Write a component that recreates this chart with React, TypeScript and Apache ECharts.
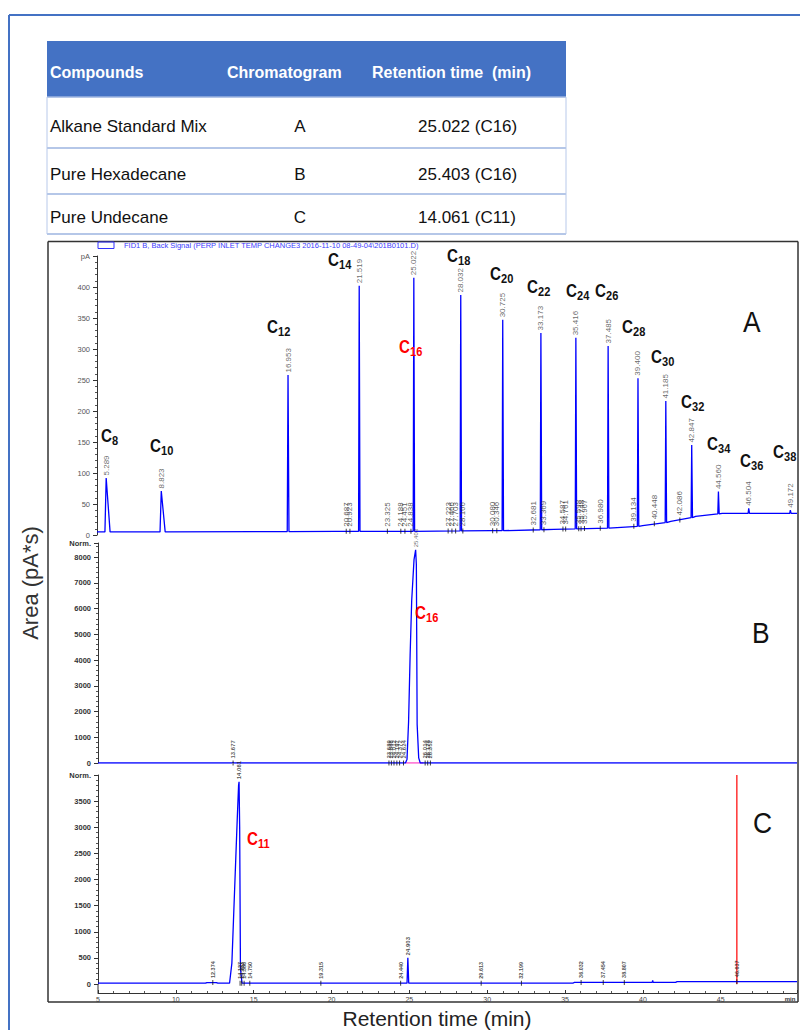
import React, { useEffect, useRef } from 'react';
import * as echarts from 'echarts';

// ---------------- Table data ----------------
const tableHeader = ['Compounds', 'Chromatogram', 'Retention time  (min)'];
const tableCompounds = ['Alkane Standard Mix', 'Pure Hexadecane', 'Pure Undecane'];
const tableChromatogram = ['A', 'B', 'C'];
const tableRetention = ['25.022 (C16)', '25.403 (C16)', '14.061 (C11)'];

// ---------------- Chromatogram A (alkane standard mix, pA) ----------------
const baselineA: number[][] = [
  [4.7, 5], [20, 6], [30, 7], [34, 9], [37.8, 11.5], [39.7, 15], [41.5, 22], [43.1, 30], [44.8, 35], [49.6, 35],
];
const peakTimesA = [5.289, 8.823, 16.953, 21.519, 25.022, 28.032, 30.725, 33.173, 35.416, 37.485, 39.4, 41.185, 42.847, 44.56, 46.504, 49.172];
const peakHeightsA = [92, 71, 258, 402, 415, 387, 347, 326, 318, 305, 253, 216, 145, 70, 43, 40];
const peakBasesA = [5, 5, 5.5, 6, 6, 6.5, 7, 8.5, 10, 11, 14, 20, 28, 34, 35, 35];
const peakLeftWidthA = [0.08, 0.08, 0.05, 0.04, 0.04, 0.04, 0.04, 0.04, 0.04, 0.04, 0.04, 0.04, 0.04, 0.04, 0.04, 0.04];
const peakRightWidthA = [0.25, 0.25, 0.06, 0.05, 0.05, 0.05, 0.05, 0.05, 0.05, 0.05, 0.05, 0.05, 0.05, 0.05, 0.05, 0.05];
const carbonNumbersA = ['8', '10', '12', '14', '16', '18', '20', '22', '24', '26', '28', '30', '32', '34', '36', '38'];
const minorTimesA = [20.687, 20.923, 23.325, 24.188, 24.451, 24.838, 27.223, 27.466, 27.703, 28.166, 30.08, 30.346, 32.681, 33.369, 34.587, 34.761, 35.598, 35.748, 35.967, 36.98, 39.134, 40.448, 42.086];
const minorValuesA = [6, 6, 6, 6, 6, 6, 6.5, 6.5, 6.5, 6.5, 7, 7, 8, 8.5, 9.5, 9.5, 10, 10, 10.5, 11, 14, 18, 24];

// ---------------- Chromatogram B (pure hexadecane, Norm.) ----------------
const traceB: number[][] = [
  [5, 0], [13.6, 0], [13.677, 20], [13.75, 0], [24.75, 0], [24.85, 150], [24.95, 1600], [25.05, 4200], [25.15, 6300],
  [25.3, 7900], [25.403, 8280], [25.45, 7700], [25.5, 1500], [25.6, 200], [25.7, 0], [49.9, 0],
];
const integrationB: number[][] = [[24.75, 0], [25.9, 0]];
const mainTimesB = [25.403];
const mainHeightsB = [8280];
const minorTimesB = [13.677, 23.689, 23.846, 24.012, 24.197, 24.372, 24.624, 26.014, 26.178, 26.352];
const minorValuesB = [0, 0, 0, 0, 0, 0, 0, 0, 0, 0];

// ---------------- Chromatogram C (pure undecane, Norm.) ----------------
const traceC: number[][] = [
  [5, 15], [11.9, 15], [12.0, 28], [12.6, 28], [12.7, 15], [13.45, 15], [13.6, 400], [13.7, 1200], [13.85, 2400],
  [13.95, 3200], [14.03, 3800], [14.061, 3870], [14.1, 3000], [14.15, 300], [14.25, 15], [24.85, 15], [24.903, 500],
  [24.96, 15], [35.5, 15], [35.6, 30], [40.6, 30], [40.63, 70], [40.66, 30], [42.1, 30], [42.2, 45], [49.9, 45],
];
const mainTimesC = [14.061, 24.903];
const mainHeightsC = [3870, 500];
const minorTimesC = [12.374, 14.127, 14.233, 14.386, 14.75, 19.315, 24.44, 29.613, 32.199, 36.032, 37.454, 38.807, 46.037];
const minorValuesC = [28, 15, 15, 15, 15, 15, 15, 15, 15, 30, 30, 30, 45];
const markerTimeC = 46.037;
const markerRangeC = [0, 4000];

// ---------------- Axis settings ----------------
const xTickStep = 5;
const yStepA = 50;
const yStepB = 1000;
const yStepC = 500;

// ---------------- Layout (pixels) ----------------
const carbonPosA = [
  [101, 435], [150, 445], [267, 326], [328, 259], [399, 346], [447, 255], [490, 273], [527, 286],
  [566, 290], [595, 290], [622, 326], [651, 356], [681, 401], [707, 443], [740, 460], [773, 451],
];

function buildTraceA(): number[][] {
  const pts: number[][] = baselineA.map((p) => [p[0], p[1]]);
  peakTimesA.forEach((t, i) => {
    pts.push([t - peakLeftWidthA[i], peakBasesA[i]]);
    pts.push([t, peakHeightsA[i]]);
    pts.push([t + peakRightWidthA[i], peakBasesA[i]]);
  });
  pts.sort((a, b) => a[0] - b[0]);
  return pts;
}

const FONT = 'Liberation Sans, Arial, sans-serif';

function carbon(x: number, y: number, num: string, color: string): any[] {
  return [
    { type: 'text', x, y, scaleX: 0.8, z: 100, style: { text: 'C', fontSize: 19, fontWeight: 'bold', fontFamily: FONT, fill: color, align: 'left', verticalAlign: 'middle' } },
    { type: 'text', x: x + 11, y: y + 5.5, scaleX: 0.85, z: 100, style: { text: num, fontSize: 13, fontWeight: 'bold', fontFamily: FONT, fill: color, align: 'left', verticalAlign: 'middle' } },
  ];
}

function labelSeries(idx: number, times: number[], values: number[], fs: number, color: string, weight: string, tick: boolean, dist: number): any {
  return {
    type: 'scatter',
    xAxisIndex: idx,
    yAxisIndex: idx,
    data: times.map((t, i) => [t, values[i]]),
    symbol: 'rect',
    symbolSize: tick ? [1, 5] : [1, 1],
    itemStyle: { color: tick ? '#111' : 'rgba(0,0,0,0)' },
    silent: true,
    z: 5,
    label: {
      show: true,
      position: 'top',
      distance: dist,
      rotate: 90,
      align: 'left',
      verticalAlign: 'middle',
      fontSize: fs,
      fontWeight: weight,
      fontFamily: FONT,
      color,
      formatter: (p: any) => p.value[0].toFixed(3),
    },
  };
}

function yAxis(idx: number, max: number, step: number, fs: number, weight: string, color: string, topLabel: string): any {
  return {
    gridIndex: idx,
    type: 'value',
    min: 0,
    max,
    interval: step,
    axisLine: { show: true, lineStyle: { color: '#333', width: 1 } },
    axisTick: { show: true, length: 4, lineStyle: { color: '#333' } },
    minorTick: { show: true, splitNumber: 5, length: 2, lineStyle: { color: '#555' } },
    splitLine: { show: false },
    axisLabel: {
      fontSize: fs,
      fontWeight: weight,
      color,
      margin: 7,
      fontFamily: FONT,
      formatter: (v: number) => (Math.abs(v % step) < 1e-6 && v < max - 1e-6 ? String(v) : topLabel),
    },
  };
}

export default function App() {
  const ref = useRef<HTMLDivElement>(null);
  useEffect(() => {
    document.body.style.margin = '0';
    if (!ref.current) return;
    const chart = echarts.init(ref.current, undefined, { renderer: 'svg' });

    const graphic: any[] = [];
    // outer page frame
    graphic.push({ type: 'line', shape: { x1: 9, y1: 15, x2: 800, y2: 15 }, style: { stroke: '#4472C4', lineWidth: 2 } });
    graphic.push({ type: 'line', shape: { x1: 9, y1: 15, x2: 9, y2: 1030 }, style: { stroke: '#4472C4', lineWidth: 2 } });
    // table
    const colX = [50, 227, 372];
    graphic.push({ type: 'rect', shape: { x: 47, y: 41, width: 519, height: 56 }, style: { fill: '#4472C4' } });
    tableHeader.forEach((h, i) => {
      graphic.push({ type: 'text', x: colX[i], y: 72, style: { text: h, fontSize: 16, fontWeight: 'bold', fontFamily: FONT, fill: '#fff', align: 'left', verticalAlign: 'middle' } });
    });
    const rowLines = [97, 148, 194, 234];
    rowLines.forEach((y) => graphic.push({ type: 'line', shape: { x1: 47, y1: y, x2: 566, y2: y }, style: { stroke: '#9DB4E0', lineWidth: 1.5 } }));
    graphic.push({ type: 'line', shape: { x1: 47, y1: 97, x2: 47, y2: 234 }, style: { stroke: '#B8C9EA', lineWidth: 1 } });
    graphic.push({ type: 'line', shape: { x1: 566, y1: 97, x2: 566, y2: 234 }, style: { stroke: '#B8C9EA', lineWidth: 1 } });
    const rowY = [126, 174, 217];
    tableCompounds.forEach((c, i) => {
      graphic.push({ type: 'text', x: 50, y: rowY[i], style: { text: c, fontSize: 17, fontFamily: FONT, fill: '#111', align: 'left', verticalAlign: 'middle' } });
      graphic.push({ type: 'text', x: 300, y: rowY[i], style: { text: tableChromatogram[i], fontSize: 17, fontFamily: FONT, fill: '#111', align: 'center', verticalAlign: 'middle' } });
      graphic.push({ type: 'text', x: 418, y: rowY[i], style: { text: tableRetention[i], fontSize: 17, fontFamily: FONT, fill: '#111', align: 'left', verticalAlign: 'middle' } });
    });
    // chromatogram frame
    const frame = '#333';
    graphic.push({ type: 'line', shape: { x1: 48, y1: 241.5, x2: 798, y2: 241.5 }, style: { stroke: frame, lineWidth: 1.5 } });
    graphic.push({ type: 'line', shape: { x1: 48, y1: 241.5, x2: 48, y2: 1002 }, style: { stroke: frame, lineWidth: 1.5 } });
    graphic.push({ type: 'line', shape: { x1: 798, y1: 241.5, x2: 798, y2: 1002 }, style: { stroke: frame, lineWidth: 1.5 } });
    graphic.push({ type: 'line', shape: { x1: 48, y1: 1002, x2: 798, y2: 1002 }, style: { stroke: frame, lineWidth: 1.5 } });
    graphic.push({ type: 'line', shape: { x1: 98, y1: 984, x2: 98, y2: 993 }, style: { stroke: '#333', lineWidth: 1 } });
    // signal header
    graphic.push({ type: 'rect', shape: { x: 98, y: 242, width: 16, height: 6.5 }, style: { fill: 'none', stroke: '#3333ff', lineWidth: 1 } });
    graphic.push({ type: 'text', x: 124, y: 245.5, style: { text: 'FID1 B, Back Signal (PERP INLET TEMP CHANGE3 2016-11-10 08-49-04\\201B0101.D)', fontSize: 7.5, fontFamily: FONT, fill: '#3b3bff', align: 'left', verticalAlign: 'middle' } });
    // carbon labels
    carbonNumbersA.forEach((n, i) => {
      graphic.push(...carbon(carbonPosA[i][0], carbonPosA[i][1], n, n === '16' ? '#ff0000' : '#111'));
    });
    graphic.push(...carbon(415, 612, '16', '#ff0000'));
    graphic.push(...carbon(247, 838, '11', '#ff0000'));
    // panel letters
    const letters: any[] = [['A', 743, 321], ['B', 752, 632], ['C', 753, 822]];
    letters.forEach((l) => graphic.push({ type: 'text', x: l[1], y: l[2], scaleX: 0.88, style: { text: l[0], fontSize: 30, fontFamily: FONT, fill: '#111', align: 'left', verticalAlign: 'middle' } }));
    // axis titles
    graphic.push({ type: 'text', x: 30, y: 583, rotation: Math.PI / 2, style: { text: 'Area (pA*s)', fontSize: 22, fontFamily: FONT, fill: '#333', align: 'center', verticalAlign: 'middle' } });
    graphic.push({ type: 'text', x: 437, y: 1018, style: { text: 'Retention time (min)', fontSize: 21, fontFamily: FONT, fill: '#222', align: 'center', verticalAlign: 'middle' } });
    graphic.push({ type: 'text', x: 790, y: 999, style: { text: 'min', fontSize: 6, fontWeight: 'bold', fontFamily: FONT, fill: '#333', align: 'center', verticalAlign: 'middle' } });

    const option: any = {
      animation: false,
      textStyle: { fontFamily: FONT },
      grid: [
        { left: 97, top: 256, width: 700, height: 279 },
        { left: 98, top: 543, width: 699, height: 220 },
        { left: 98, top: 775, width: 699, height: 209 },
      ],
      xAxis: [
        { gridIndex: 0, type: 'value', min: 4.7, max: 49.6, show: false },
        { gridIndex: 1, type: 'value', min: 5, max: 49.9, show: false },
        {
          gridIndex: 2,
          type: 'value',
          min: 5,
          max: 49.9,
          interval: xTickStep,
          offset: 9,
          axisLine: { show: true, onZero: false, lineStyle: { color: '#333', width: 1 } },
          axisTick: { show: true, inside: true, length: 3, lineStyle: { color: '#333' } },
          minorTick: { show: true, splitNumber: 5, length: 2, lineStyle: { color: '#555' } },
          splitLine: { show: false },
          axisLabel: {
            fontSize: 7,
            color: '#444',
            margin: 3,
            formatter: (v: number) => (Math.abs(v % xTickStep) < 1e-6 ? String(v) : ''),
          },
        },
      ],
      yAxis: [
        yAxis(0, 450, yStepA, 7.5, 'normal', '#555', 'pA'),
        yAxis(1, 8544, yStepB, 7.5, 'bold', '#333', 'Norm.'),
        yAxis(2, 4000, yStepC, 7.5, 'bold', '#333', 'Norm.'),
      ],
      series: [
        {
          type: 'line', xAxisIndex: 0, yAxisIndex: 0, data: buildTraceA(), showSymbol: false, silent: true,
          lineStyle: { color: '#0000ff', width: 1.3 },
        },
        labelSeries(0, peakTimesA, peakHeightsA, 8, '#444', 'normal', false, 2),
        labelSeries(0, minorTimesA, minorValuesA, 8, '#333', 'normal', true, 2),
        {
          type: 'line', xAxisIndex: 1, yAxisIndex: 1, data: integrationB, showSymbol: false, silent: true,
          lineStyle: { color: '#ff55cc', width: 1.5 }, z: 1,
        },
        {
          type: 'line', xAxisIndex: 1, yAxisIndex: 1, data: traceB, showSymbol: false, silent: true,
          lineStyle: { color: '#0000ff', width: 1.3 }, z: 2,
        },
        labelSeries(1, mainTimesB, mainHeightsB, 6, '#444', 'normal', false, 2),
        labelSeries(1, minorTimesB, minorValuesB, 6, '#333', 'bold', true, 2),
        {
          type: 'line', xAxisIndex: 2, yAxisIndex: 2,
          data: markerRangeC.map((v) => [markerTimeC, v]),
          showSymbol: false, silent: true,
          lineStyle: { color: '#ff0000', width: 1.2 }, z: 1,
        },
        {
          type: 'line', xAxisIndex: 2, yAxisIndex: 2, data: traceC, showSymbol: false, silent: true,
          lineStyle: { color: '#0000ff', width: 1.3 }, z: 2,
        },
        labelSeries(2, mainTimesC, mainHeightsC, 6, '#222', 'bold', false, 2),
        labelSeries(2, minorTimesC, minorValuesC, 5.5, '#222', 'bold', true, 2),
      ],
      graphic,
    };
    chart.setOption(option);
    return () => chart.dispose();
  }, []);
  return <div ref={ref} style={{ width: 800, height: 1030 }} />;
}
